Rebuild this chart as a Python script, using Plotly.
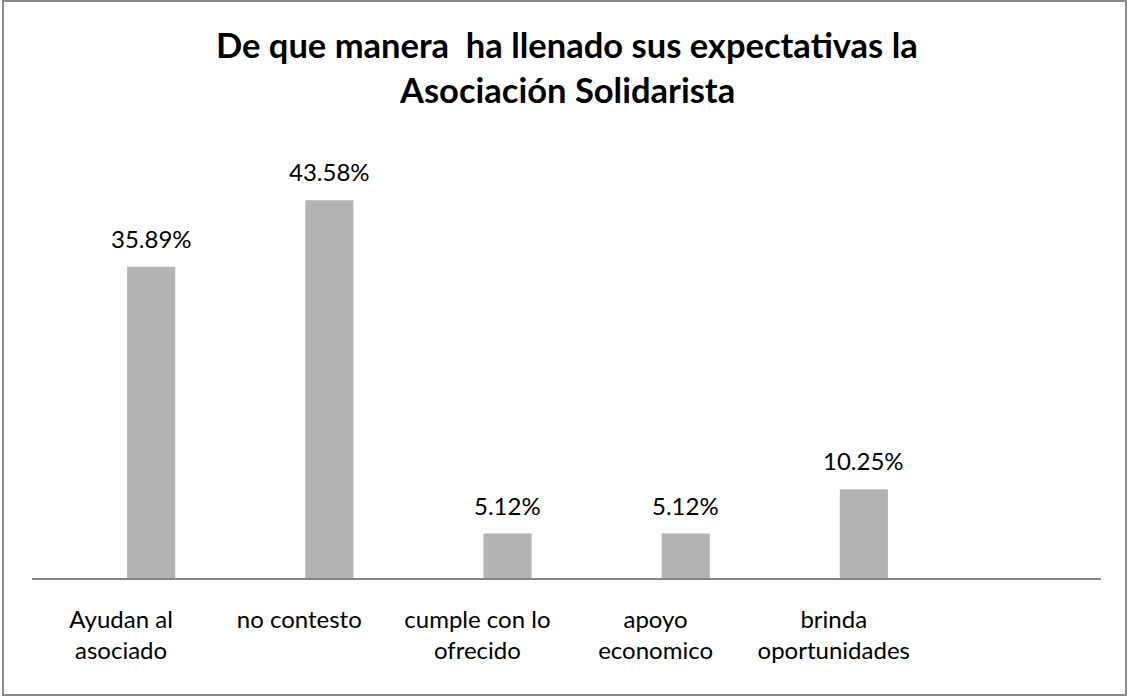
import plotly.graph_objects as go

categories = ["Ayudan al<br>asociado", "no contesto", "cumple con lo<br>ofrecido",
              "apoyo<br>economico", "brinda<br>oportunidades"]
values = [35.89, 43.58, 5.12, 5.12, 10.25]
title_lines = ["De que manera  ha llenado sus expectativas la", "Asociación Solidarista"]

FONT = "Lato, Calibri, Carlito, sans-serif"
BAR_W = 0.27
BAR_OFF = 0.034

fig = go.Figure()
fig.add_trace(go.Bar(
    x=categories,
    y=values,
    width=BAR_W,
    offset=BAR_OFF,
    marker=dict(color="#B3B3B3", line=dict(width=0)),
    textposition="none",
    hoverinfo="skip",
))

annotations = []
for c, v in zip(categories, values):
    annotations.append(dict(
        x=c, y=v, xref="x", yref="y", text=f"{v:.2f}%", showarrow=False,
        xanchor="center", yanchor="bottom", xshift=(BAR_OFF + BAR_W / 2) * 178.2,
        yshift=12, font=dict(family=FONT, size=24, color="#000000")))

# title, two lines
for line, ypos in zip(title_lines, [1.2169, 1.1142]):
    annotations.append(dict(
        x=0.5, y=ypos, xref="paper", yref="paper", text=f"<b>{line}</b>",
        showarrow=False, xanchor="center", yanchor="middle",
        font=dict(family=FONT, size=34.5, color="#000000")))

fig.update_layout(
    width=1131, height=697,
    margin=dict(l=32, r=30, t=140, b=119),
    paper_bgcolor="white", plot_bgcolor="white",
    showlegend=False,
    xaxis=dict(type="category", categoryorder="array", categoryarray=categories,
               range=[-0.5, 5.5], showline=True, linecolor="#868686", linewidth=2,
               showgrid=False, zeroline=False, ticks="", ticklabelstandoff=19,
               tickfont=dict(family=FONT, size=24, color="#000000")),
    yaxis=dict(range=[0, 50.52], visible=False, showgrid=False, zeroline=False),
    annotations=annotations,
    shapes=[dict(type="rect", xref="paper", yref="paper",
                 x0=-0.0271, x1=1.0234, y0=-0.2671, y1=1.3174,
                 line=dict(color="#898989", width=2), fillcolor="rgba(0,0,0,0)",
                 layer="below")],
)

fig.write_html("out.html", config={"displayModeBar": False},
               post_script="document.body.style.margin='0';document.body.style.overflow='hidden';")
